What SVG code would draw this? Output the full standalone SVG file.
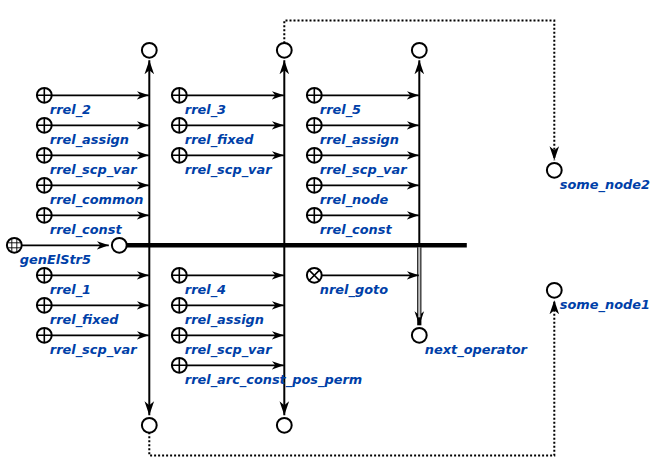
<svg xmlns="http://www.w3.org/2000/svg" width="660" height="476" viewBox="0 0 660 476">
<style>
.n{fill:#fff;stroke:#000;stroke-width:2}
.g{fill:none;stroke:#000;stroke-width:1.6}
.gf{fill:none;stroke:#000;stroke-width:.9}
.a{fill:none;stroke:#000;stroke-width:1.8;marker-end:url(#ah)}
.v{fill:none;stroke:#000;stroke-width:2}
.d{fill:none;stroke:#000;stroke-width:2;stroke-dasharray:2 2}
text{font-family:"DejaVu Sans",sans-serif;font-weight:bold;font-style:italic;font-size:12.9px;fill:#003fa8}
</style>
<defs>
<marker id="ah" markerUnits="userSpaceOnUse" markerWidth="14" markerHeight="10" refX="12" refY="5" orient="auto"><path d="M0 .8L12 5L0 9.2L3.5 5Z" fill="#000"/></marker>
<marker id="av" markerUnits="userSpaceOnUse" markerWidth="16" markerHeight="14" refX="14" refY="7" orient="auto-start-reverse"><path d="M0 2.2L14 7L0 11.8L4 7Z" fill="#000"/></marker>
<g id="plus"><circle class="n" r="7.4"/><path class="g" d="M-7.4 0H7.4M0-7.4V7.4"/></g>
<g id="cross"><circle class="n" r="7.4"/><path class="g" d="M-5.2-5.2L5.2 5.2M-5.2 5.2L5.2-5.2"/></g>
<g id="grid"><circle class="n" r="7.4"/><path class="gf" d="M-7-2.5H7M-7 2.5H7M-2.5-7V7M2.5-7V7"/></g>
<circle id="dot" class="n" r="7.4"/>
</defs>
<g transform="translate(-.2 .3)">
<g id="connectors">
<path d="M126 245H467" fill="none" stroke="#000" stroke-width="4.6"/>
<path class="v" d="M149.5 60V415" marker-start="url(#av)" marker-end="url(#av)"/>
<path class="v" d="M284.5 60V415" marker-start="url(#av)" marker-end="url(#av)"/>
<path class="v" d="M419.5 245V60" marker-end="url(#av)"/>
<path d="M419.5 247V325" fill="none" stroke="#000" stroke-width="4.2" marker-end="url(#av)"/>
<path d="M419.5 247V317" fill="none" stroke="#c4c4c4" stroke-width="2.2"/>
<path class="d" d="M284.5 43V20.2H554.5V160" marker-end="url(#av)"/>
<path class="d" d="M149.5 432V455.2H554.5V300" marker-end="url(#av)"/>
<path class="a" d="M22 245H109"/>
<path class="a" d="M52 95H149"/><path class="a" d="M52 125H149"/><path class="a" d="M52 155H149"/><path class="a" d="M52 185H149"/><path class="a" d="M52 215H149"/><path class="a" d="M52 275H149"/><path class="a" d="M52 305H149"/><path class="a" d="M52 335H149"/>
<path class="a" d="M187 95H284"/><path class="a" d="M187 125H284"/><path class="a" d="M187 155H284"/><path class="a" d="M187 275H284"/><path class="a" d="M187 305H284"/><path class="a" d="M187 335H284"/><path class="a" d="M187 365H284"/>
<path class="a" d="M322 95H419"/><path class="a" d="M322 125H419"/><path class="a" d="M322 155H419"/><path class="a" d="M322 185H419"/><path class="a" d="M322 215H419"/><path class="a" d="M322 275H419"/>
</g>
<g id="top1"><use href="#dot" x="149.5" y="50"/></g>
<g id="top2"><use href="#dot" x="284.5" y="50"/></g>
<g id="top3"><use href="#dot" x="419.5" y="50"/></g>
<g id="bottom1"><use href="#dot" x="149.5" y="425"/></g>
<g id="bottom2"><use href="#dot" x="284.5" y="425"/></g>
<g id="bus"><use href="#dot" x="119.5" y="245"/></g>
<g id="genElStr5"><use href="#grid" x="14.5" y="245"/><text x="20" y="264">genElStr5</text></g>
<g id="next_operator"><use href="#dot" x="419.5" y="335"/><text x="425" y="354">next_operator</text></g>
<g id="some_node2"><use href="#dot" x="554.5" y="170"/><text x="560" y="189">some_node2</text></g>
<g id="some_node1"><use href="#dot" x="554.5" y="290"/><text x="560" y="309">some_node1</text></g>
<g id="a1"><use href="#plus" x="44.5" y="95"/><text x="50" y="114">rrel_2</text></g>
<g id="a2"><use href="#plus" x="44.5" y="125"/><text x="50" y="144">rrel_assign</text></g>
<g id="a3"><use href="#plus" x="44.5" y="155"/><text x="50" y="174">rrel_scp_var</text></g>
<g id="a4"><use href="#plus" x="44.5" y="185"/><text x="50" y="204">rrel_common</text></g>
<g id="a5"><use href="#plus" x="44.5" y="215"/><text x="50" y="234">rrel_const</text></g>
<g id="a6"><use href="#plus" x="44.5" y="275"/><text x="50" y="294">rrel_1</text></g>
<g id="a7"><use href="#plus" x="44.5" y="305"/><text x="50" y="324">rrel_fixed</text></g>
<g id="a8"><use href="#plus" x="44.5" y="335"/><text x="50" y="354">rrel_scp_var</text></g>
<g id="b1"><use href="#plus" x="179.5" y="95"/><text x="185" y="114">rrel_3</text></g>
<g id="b2"><use href="#plus" x="179.5" y="125"/><text x="185" y="144">rrel_fixed</text></g>
<g id="b3"><use href="#plus" x="179.5" y="155"/><text x="185" y="174">rrel_scp_var</text></g>
<g id="b4"><use href="#plus" x="179.5" y="275"/><text x="185" y="294">rrel_4</text></g>
<g id="b5"><use href="#plus" x="179.5" y="305"/><text x="185" y="324">rrel_assign</text></g>
<g id="b6"><use href="#plus" x="179.5" y="335"/><text x="185" y="354">rrel_scp_var</text></g>
<g id="b7"><use href="#plus" x="179.5" y="365"/><text x="185" y="384">rrel_arc_const_pos_perm</text></g>
<g id="c1"><use href="#plus" x="314.5" y="95"/><text x="320" y="114">rrel_5</text></g>
<g id="c2"><use href="#plus" x="314.5" y="125"/><text x="320" y="144">rrel_assign</text></g>
<g id="c3"><use href="#plus" x="314.5" y="155"/><text x="320" y="174">rrel_scp_var</text></g>
<g id="c4"><use href="#plus" x="314.5" y="185"/><text x="320" y="204">rrel_node</text></g>
<g id="c5"><use href="#plus" x="314.5" y="215"/><text x="320" y="234">rrel_const</text></g>
<g id="c6"><use href="#cross" x="314.5" y="275"/><text x="320" y="294">nrel_goto</text></g>
</g>
</svg>
